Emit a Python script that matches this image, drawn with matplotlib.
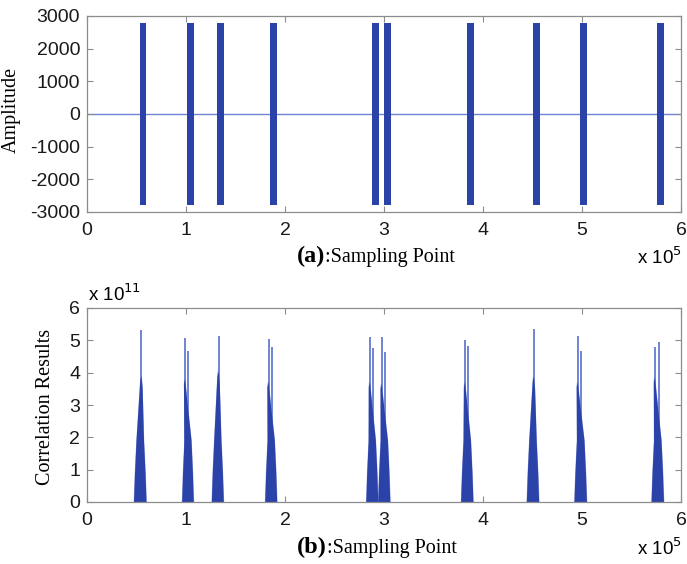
import matplotlib
matplotlib.use("Agg")
import matplotlib.pyplot as plt
from matplotlib.ticker import FixedLocator, FuncFormatter

plt.rcParams["axes.unicode_minus"] = False

# ---- received signal: chirp bursts (sample index, x 1e5) ----
burst_start = [0.532, 1.013, 1.316, 1.852, 2.877, 2.998, 3.843, 4.501, 4.983, 5.762]
burst_end = [0.601, 1.083, 1.384, 1.922, 2.947, 3.069, 3.909, 4.571, 5.054, 5.830]
burst_amp = 2800

# ---- correlation output peaks (sample index x 1e5, value x 1e11) ----
peak_start = [0.475, 0.961, 1.261, 1.800, 2.821, 2.942, 3.779, 4.443, 4.924, 5.703]
peak_apex = [0.550, 0.991, 1.329, 1.834, 2.858, 2.977, 3.819, 4.514, 4.958, 5.737]
peak_end = [0.601, 1.079, 1.382, 1.921, 2.942, 3.064, 3.903, 4.567, 5.050, 5.828]
peak_env = [3.90, 3.80, 4.05, 3.70, 3.70, 3.65, 3.70, 3.88, 3.70, 3.85]
spike_x = [[0.550], [0.991, 1.025], [1.329], [1.834, 1.868], [2.858, 2.891],
           [2.977, 3.010], [3.819, 3.852], [4.514], [4.958, 4.991], [5.737, 5.778]]
spike_h = [[5.32], [5.07, 4.68], [5.13], [5.05, 4.78], [5.10, 4.75],
           [5.10, 4.65], [5.00, 4.82], [5.35], [5.13, 4.68], [4.80, 4.95]]

XSCALE = 1e5
YSCALE = 1e11

dark_blue = "#2b43a8"
light_blue = "#7084d4"
frame = "#8c8c8c"

fig = plt.figure(figsize=(6.87, 5.64), dpi=100)
ax1 = fig.add_axes([87 / 687, 1 - 212 / 564, 594 / 687, 196 / 564])
ax2 = fig.add_axes([87 / 687, 1 - 502 / 564, 594 / 687, 194 / 564])

tick_family = "Liberation Sans"
tick_size = 14
serif = "Liberation Serif"

# top panel: signal
ax1.plot([0, 6 * XSCALE], [0, 0], color=light_blue, lw=1.0, zorder=1)
for s, e in zip(burst_start, burst_end):
    ax1.fill_between([s * XSCALE, e * XSCALE], -burst_amp, burst_amp,
                     color=dark_blue, lw=0, zorder=2)
ax1.set_ylim(-3000, 3000)
ax1.yaxis.set_major_locator(FixedLocator([-3000, -2000, -1000, 0, 1000, 2000, 3000]))
ax1.set_ylabel("Amplitude", family=serif, fontsize=14.5)
ax1.yaxis.set_label_coords(-0.112, 0.52)


def peak_outline(s, a, e, h):
    w = e - s
    xs = [s, s + 0.08 * w, s + 0.2 * w, a - 0.012, a, a + 0.012, e - 0.2 * w, e - 0.08 * w, e]
    ys = [0, 0.9, 1.9, h * 0.96, h, h * 0.9, 1.9, 0.9, 0]
    return [x * XSCALE for x in xs], [y * YSCALE for y in ys]


# bottom panel: correlation
for i in range(len(peak_start)):
    s, a, e, h = peak_start[i], peak_apex[i], peak_end[i], peak_env[i]
    hx, hy = peak_outline(s - 0.004, a, e + 0.004, h * 1.03)
    ax2.fill(hx, hy, color=light_blue, alpha=0.6, lw=0, zorder=1)
    px, py = peak_outline(s, a, e, h)
    ax2.fill(px, py, color=dark_blue, lw=0, zorder=2)
    for sx, sh in zip(spike_x[i], spike_h[i]):
        ax2.vlines(sx * XSCALE, 0, sh * YSCALE, color=light_blue, lw=1.4, zorder=1)
ax2.set_ylim(0, 6 * YSCALE)
ax2.yaxis.set_major_locator(FixedLocator([k * YSCALE for k in range(7)]))
ax2.yaxis.set_major_formatter(FuncFormatter(lambda v, p: f"{v / YSCALE:g}"))
ax2.set_ylabel("Correlation Results", family=serif, fontsize=14.5)
ax2.yaxis.set_label_coords(-0.054, 0.49)

for ax in (ax1, ax2):
    ax.set_xlim(0, 6 * XSCALE)
    ax.xaxis.set_major_locator(FixedLocator([k * XSCALE for k in range(7)]))
    ax.xaxis.set_major_formatter(FuncFormatter(lambda v, p: f"{v / XSCALE:g}"))
    ax.tick_params(direction="in", length=4, width=0.8, color=frame,
                   top=True, right=True, labelcolor="#1a1a1a")
    ax.tick_params(axis="x", pad=7)
    ax.tick_params(axis="y", pad=5)
    for lab in ax.get_xticklabels() + ax.get_yticklabels():
        lab.set_fontfamily(tick_family)
        lab.set_fontsize(tick_size)
    for sp in ax.spines.values():
        sp.set_color(frame)
        sp.set_linewidth(0.9)

# x-axis captions and exponent labels
for tag, base_y in (("(a)", 262), ("(b)", 553)):
    t1 = fig.text(297 / 687, 1 - base_y / 564, tag, family=serif,
                  fontweight="bold", fontsize=17.5, va="baseline", ha="left")
    ax1.annotate(":Sampling Point", xy=(1, 0), xycoords=t1, va="bottom",
                 ha="left", family=serif, fontsize=14.5, annotation_clip=False)
    fig.text(682 / 687, 1 - (base_y + 2) / 564, r"x 10$^{5}$",
             family=tick_family, fontsize=13.5, va="baseline", ha="right")

fig.text(88 / 687, 1 - 301 / 564, r"x 10$^{11}$",
         family=tick_family, fontsize=13.5, va="baseline", ha="left")

fig.savefig("out.png", dpi=100)
